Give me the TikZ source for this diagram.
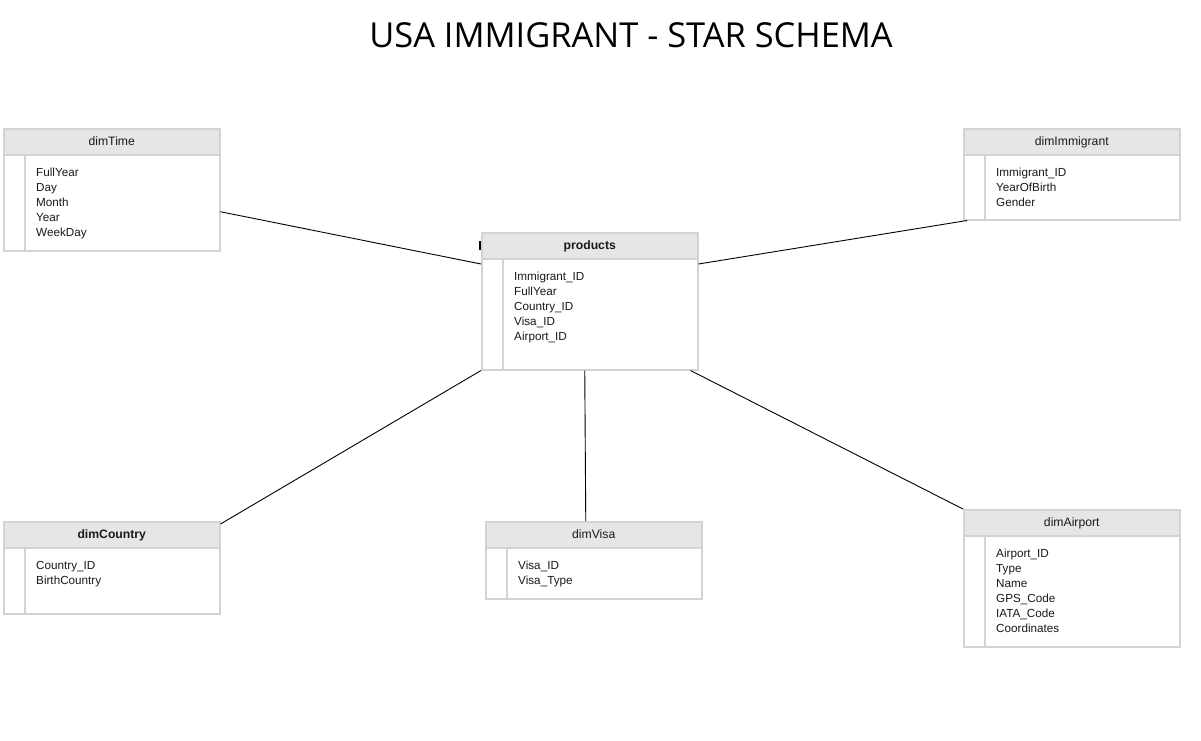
\documentclass[tikz,border=0pt]{standalone}
\usepackage{fontspec}
\setmainfont{Liberation Sans}
\newfontfamily\titlefont{Open Sans}
\usepackage{tikz}
\usetikzlibrary{positioning}
\usepackage{xcolor}
\definecolor{hdrgray}{HTML}{E6E6E6}
\definecolor{edgegray}{HTML}{D3D3D3}
\definecolor{txt}{HTML}{1A1A1A}

\tikzset{
  hdr/.style={draw=edgegray, line width=1.5pt, fill=hdrgray, minimum width=216pt, minimum height=26pt,
    anchor=north west, inner sep=0pt, text height=9pt, text depth=2.5pt,
    font=\fontsize{12.2}{14}\selectfont, text=txt},
  tbody/.style={draw=edgegray, line width=1.5pt, fill=white, minimum width=216pt, anchor=north west, inner sep=0pt},
  field/.style={anchor=base west, inner sep=0pt, font=\fontsize{11.7}{14}\selectfont, text=txt},
  link/.style={draw=black, line width=0.9pt}
}

\begin{document}
\begin{tikzpicture}[x=1pt,y=-1pt]
\useasboundingbox[fill=white] (0,0) rectangle (1201,740);
\node[anchor=base, font=\titlefont\fontsize{34.4}{40}\selectfont] (title) at (631,47) {USA IMMIGRANT - STAR SCHEMA};

% dimTime
\node[tbody, minimum height=96pt] (time) at (3,154) {};
\node[hdr] (timeH) at (3,128) {dimTime};
\draw[edgegray, line width=1.5pt] (25,154) -- (25,250);
\foreach \f [count=\i] in {FullYear,Day,Month,Year,WeekDay}
  \node[field] (time-\i) at (36,{161+15*\i}) {\f};

% dimImmigrant
\node[tbody, minimum height=65pt] (imm) at (963,154) {};
\node[hdr] (immH) at (963,128) {dimImmigrant};
\draw[edgegray, line width=1.5pt] (985,154) -- (985,219);
\foreach \f [count=\i] in {Immigrant\_ID,YearOfBirth,Gender}
  \node[field] (imm-\i) at (996,{161+15*\i}) {\f};

% products
\node[tbody, minimum height=111pt] (prod) at (481,258) {};
\node[hdr, font=\fontsize{12.2}{14}\selectfont\bfseries] (prodH) at (481,232) {products};
\draw[edgegray, line width=1.5pt] (503,258) -- (503,369);
\foreach \f [count=\i] in {Immigrant\_ID,FullYear,Country\_ID,Visa\_ID,Airport\_ID}
  \node[field] (prod-\i) at (514,{265+15*\i}) {\f};
\draw[black, line width=2pt] (480,241) -- (480,250);

% dimCountry
\node[tbody, minimum height=66pt] (country) at (3,547) {};
\node[hdr, font=\fontsize{12.2}{14}\selectfont\bfseries] (countryH) at (3,521) {dimCountry};
\draw[edgegray, line width=1.5pt] (25,547) -- (25,613);
\foreach \f [count=\i] in {Country\_ID,BirthCountry}
  \node[field] (country-\i) at (36,{554+15*\i}) {\f};

% dimVisa
\node[tbody, minimum height=51pt] (visa) at (485,547) {};
\node[hdr] (visaH) at (485,521) {dimVisa};
\draw[edgegray, line width=1.5pt] (507,547) -- (507,598);
\foreach \f [count=\i] in {Visa\_ID,Visa\_Type}
  \node[field] (visa-\i) at (518,{554+15*\i}) {\f};

% dimAirport
\node[tbody, minimum height=111pt] (air) at (963,535) {};
\node[hdr] (airH) at (963,509) {dimAirport};
\draw[edgegray, line width=1.5pt] (985,535) -- (985,646);
\foreach \f [count=\i] in {Airport\_ID,Type,Name,GPS\_Code,IATA\_Code,Coordinates}
  \node[field] (air-\i) at (996,{542+15*\i}) {\f};

% links
\draw[link] ([yshift=-9pt]time.east) -- ([yshift=-6pt]prod.north west);
\draw[link] ([xshift=4pt]imm.south west) -- ([yshift=-6pt]prod.north east);
\draw[link] (prod.south west) -- ([yshift=-3pt]countryH.north east);
\draw[link] ([xshift=-5pt]prod.south) -- ([xshift=-8pt]visaH.north);
\draw[link] ([xshift=-8pt]prod.south east) -- (airH.north west);
\end{tikzpicture}
\end{document}
